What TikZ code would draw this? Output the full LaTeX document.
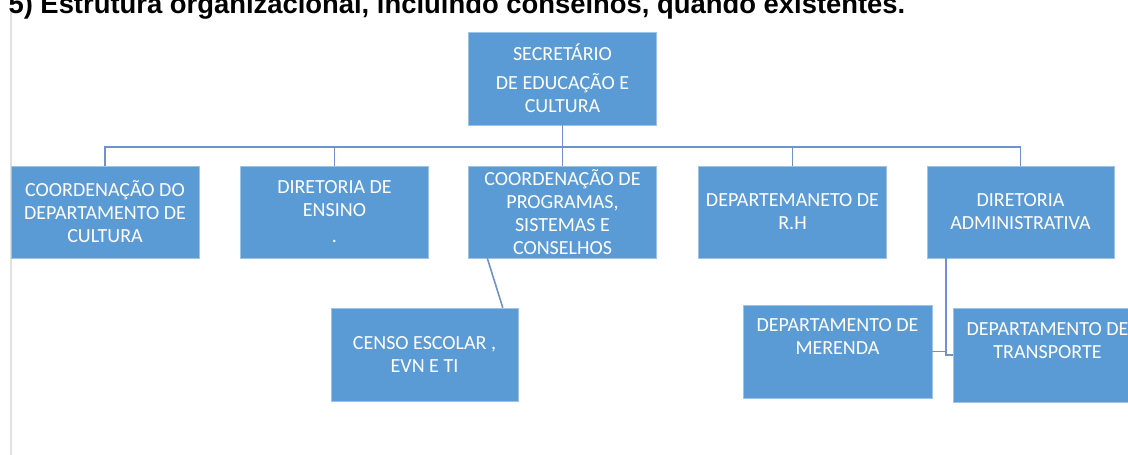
\documentclass[tikz,border=0pt]{standalone}
\usepackage{fontspec}
\setmainfont{Carlito}
\newfontfamily\titlefont{Liberation Sans}
\usepackage{xcolor}
\definecolor{boxblue}{HTML}{5B9BD5}
\definecolor{linkblue}{HTML}{6F93C8}

\begin{document}
\begin{tikzpicture}[x=1pt, y=-1pt,
  unit/.style={rectangle, draw=boxblue!60!white, fill=boxblue, text=white,
    minimum width=188pt, minimum height=92pt, align=center, inner sep=2pt,
    font=\fontsize{20}{23}\selectfont},
  %
  link/.style={draw=linkblue, line width=1.6pt},
  %
  margin/.style={draw=black!12, line width=2pt}
  ]

  \useasboundingbox (0,0) rectangle (1128,455);
  \clip (0,0) rectangle (1128,455);
  \fill[white] (0,0) rectangle (1128,455);

  \draw[margin] (11,10) -- (11,455);

  \node[anchor=base west, font=\titlefont\bfseries\fontsize{27.4}{30}\selectfont]
    (titulo) at (5,13) {5) Estrutura organizacional, incluindo conselhos, quando existentes.};

  \begin{scope}
    %%%%%%%%%%%%%%%%%%%%%%%%%%%%%%%
    \node[unit, minimum height=93pt] (secretario) at (562.5,78.5)
      {SECRET\'ARIO\\[6pt]DE EDUCA\c{C}\~AO E\\CULTURA};
    %%%%%%%%%%%%%%%%%%%%%%%%%%%%%%%
    \node[unit] (cultura) at (105,212) {COORDENA\c{C}\~AO DO\\DEPARTAMENTO DE\\CULTURA};
    \node[unit] (ensino) at (334.5,212) {DIRETORIA DE\\ENSINO\\[3pt].};
    \node[unit] (programas) at (562.5,212) {COORDENA\c{C}\~AO DE\\PROGRAMAS,\\SISTEMAS E\\CONSELHOS};
    \node[unit] (rh) at (792.5,212) {DEPARTEMANETO DE\\R.H};
    \node[unit, minimum width=187pt] (adm) at (1020.5,212) {DIRETORIA\\ADMINISTRATIVA};
    %%%%%%%%%%%%%%%%%%%%%%%%%%%%%%%
    \node[unit, minimum width=187pt, minimum height=93pt] (censo) at (424.5,354.5)
      {CENSO ESCOLAR ,\\EVN E TI};
    \node[unit, minimum width=189pt, minimum height=93pt] (merenda) at (837.5,351.5)
      {DEPARTAMENTO DE\\MERENDA\\ \strut};
    \node[unit, minimum width=189pt, minimum height=94pt] (transporte) at (1047.5,355)
      {DEPARTAMENTO DE\\TRANSPORTE\\ \strut};
  \end{scope}

  \begin{scope}
    \coordinate (bus) at (562.5,147);
    \draw[link] (secretario.south) -- (bus);
    \draw[link] (cultura.north) |- (bus) -| (adm.north);
    \foreach \unidade in {ensino, programas, rh}
      \draw[link] (\unidade.north) -- (\unidade.north |- bus);
    \draw[link] ([xshift=19pt]programas.south west) -- ([xshift=172pt]censo.north west);
    \coordinate (spine) at ([xshift=19pt]adm.south west);
    \draw[link] (spine) |- (transporte.west);
    \draw[link] (merenda.east) -- (merenda.east -| spine);
  \end{scope}

\end{tikzpicture}
\end{document}
